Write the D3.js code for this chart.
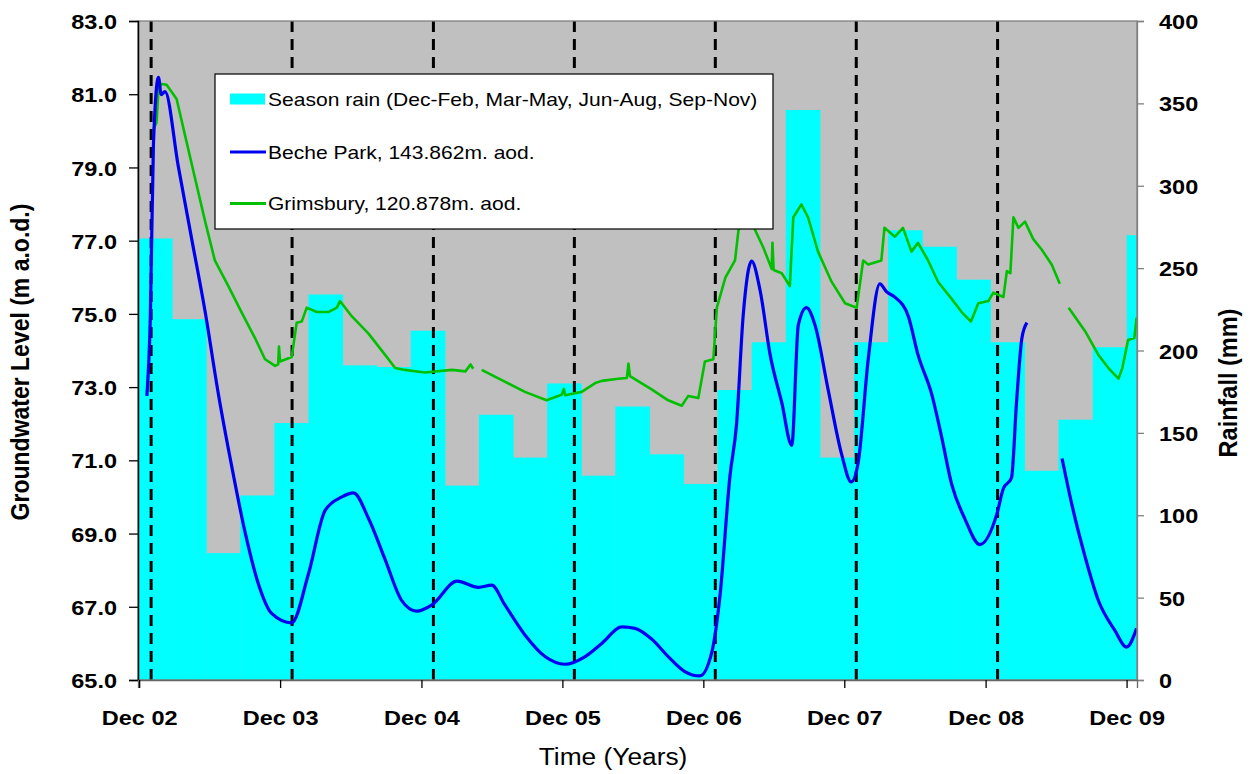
<!DOCTYPE html>
<html>
<head>
<meta charset="utf-8">
<script src="https://cdn.jsdelivr.net/npm/d3@7"></script>
<style>
  html, body { margin: 0; padding: 0; background: #ffffff; }
  svg { display: block; }
  text { font-family: "Liberation Sans", Arial, sans-serif; fill: #000; }
</style>
</head>
<body>
<svg id="chart" width="1250" height="774"></svg>
<script>
// ---------------- DATA ----------------
const seasonRain = [268, 219, 77, 112, 156, 234, 191, 190, 212, 118, 161, 135, 180, 124, 166,
                    137, 119, 176, 205, 346, 135, 205, 273, 263, 243, 205, 127, 158, 202, 270];
const seasonBarSpan = 29.3; // number of season bars across the plotted period (last one partial)

const bechePark = [
  ["2002-12-21",72.76],["2002-12-30",74.94],["2003-01-07",79.64],["2003-01-20",81.46],["2003-01-27",80.99],
  ["2003-02-06",81.07],["2003-03-12",79.05],["2003-04-16",77.05],["2003-05-21",75.05],["2003-06-24",72.82],
  ["2003-07-29",70.82],["2003-09-01",69.05],["2003-10-05",67.65],["2003-11-09",66.82],["2003-12-31",66.56],
  ["2004-02-12",67.88],["2004-03-27",69.64],["2004-05-09",70.0],["2004-06-08",70.11],["2004-07-17",69.41],
  ["2004-08-29",68.29],["2004-10-11",67.17],["2004-11-19",66.88],["2004-12-28",67.05],["2005-03-03",67.70],
  ["2005-04-28",67.53],["2005-06-01",67.59],["2005-07-05",67.05],["2005-08-26",66.23],["2005-10-17",65.64],
  ["2005-12-08",65.43],["2006-01-29",65.64],["2006-03-13",66.0],["2006-05-04",66.45],["2006-06-07",66.41],
  ["2006-07-20",66.12],["2006-09-01",65.64],["2006-10-14",65.23],["2006-11-22",65.11],["2006-12-23",65.76],
  ["2007-01-13",67.29],["2007-02-08",70.58],["2007-02-25",71.99],["2007-03-14",74.93],["2007-04-05",76.44],
  ["2007-04-27",75.64],["2007-05-23",73.88],["2007-06-22",72.58],["2007-07-18",71.41],["2007-08-04",74.70],
  ["2007-08-25",75.17],["2007-09-16",74.70],["2007-10-20",72.94],["2007-11-24",71.17],["2007-12-19",70.41],
  ["2008-01-06",70.94],["2008-02-01",73.76],["2008-03-02",75.82],["2008-03-20",75.6],["2008-04-10",75.46],
  ["2008-05-15",74.93],["2008-06-09",73.88],["2008-07-14",72.82],["2008-08-09",71.64],["2008-09-04",70.35],
  ["2008-10-08",69.41],["2008-11-16",68.70],["2008-12-30",69.53],["2009-01-16",70.23],["2009-02-06",70.52],
  ["2009-02-19",72.58],["2009-03-05",74.34],["2009-03-18",74.76],["2009-04-20",null],["2009-06-17",71.05],
  ["2009-07-13",69.76],["2009-08-16",68.35],["2009-09-19",67.17],["2009-11-01",66.35],["2009-12-01",65.90],
  ["2009-12-27",66.41]
];

const grimsbury = [
  ["2003-01-07",80.05],["2003-01-15",80.23],["2003-01-20",81.16],["2003-01-28",81.28],["2003-02-10",81.26],
  ["2003-03-08",80.87],["2003-03-30",79.87],["2003-04-25",78.69],["2003-05-21",77.52],["2003-06-15",76.46],
  ["2003-07-20",75.76],["2003-08-23",75.05],["2003-09-27",74.34],["2003-10-23",73.76],["2003-11-18",73.58],
  ["2003-11-26",73.62],["2003-11-28",74.11],["2003-12-01",73.70],["2003-12-31",73.82],["2004-01-13",74.76],
  ["2004-01-26",74.79],["2004-02-08",75.17],["2004-03-05",75.05],["2004-04-04",75.05],["2004-04-26",75.17],
  ["2004-05-04",75.35],["2004-06-04",74.93],["2004-07-17",74.46],["2004-08-29",73.88],["2004-09-24",73.52],
  ["2004-10-19",73.47],["2004-12-10",73.40],["2005-02-18",73.47],["2005-03-25",73.43],["2005-04-07",73.62],
  ["2005-04-14",73.50],["2005-04-24",null],["2005-05-06",73.47],["2005-06-27",73.19],["2005-08-26",72.87],
  ["2005-10-21",72.64],["2005-11-29",72.79],["2005-12-05",72.95],["2005-12-08",72.78],["2006-01-20",72.87],
  ["2006-02-24",73.11],["2006-03-13",73.17],["2006-04-25",73.23],["2006-05-17",73.25],["2006-05-21",73.64],
  ["2006-05-25",73.30],["2006-07-20",72.94],["2006-09-01",72.64],["2006-10-06",72.49],["2006-10-23",72.76],
  ["2006-11-18",72.70],["2006-12-05",73.70],["2006-12-27",73.76],["2007-01-05",75.17],["2007-01-27",75.99],
  ["2007-02-21",76.46],["2007-03-02",77.29],["2007-03-19",77.9],["2007-04-14",77.29],["2007-05-05",76.82],
  ["2007-05-27",76.23],["2007-05-29",76.94],["2007-06-01",76.2],["2007-06-22",76.11],["2007-07-13",75.76],
  ["2007-07-22",77.64],["2007-08-12",77.99],["2007-08-29",77.64],["2007-09-24",76.70],["2007-10-29",75.88],
  ["2007-12-03",75.29],["2008-01-02",75.17],["2008-01-19",76.46],["2008-02-01",76.35],["2008-03-06",76.46],
  ["2008-03-14",77.35],["2008-04-10",77.11],["2008-05-01",77.35],["2008-05-23",76.70],["2008-06-09",76.94],
  ["2008-07-05",76.46],["2008-07-31",75.87],["2008-09-04",75.41],["2008-09-30",75.05],["2008-10-24",74.79],
  ["2008-11-12",75.29],["2008-12-08",75.35],["2008-12-21",75.58],["2009-01-16",75.46],["2009-01-25",76.17],
  ["2009-02-03",76.11],["2009-02-11",77.64],["2009-02-24",77.35],["2009-03-13",77.52],["2009-04-03",77.05],
  ["2009-04-25",76.76],["2009-05-21",76.35],["2009-06-11",75.82],["2009-06-22",null],["2009-07-04",75.17],
  ["2009-08-16",74.52],["2009-09-19",73.88],["2009-10-15",73.52],["2009-11-10",73.23],["2009-11-20",73.52],
  ["2009-12-05",74.29],["2009-12-21",74.34],["2009-12-27",74.9]
];

const timeDomain = ["2002-11-28", "2009-12-28"];
const xTickDates = ["2002-12-01","2003-12-01","2004-12-01","2005-12-01","2006-12-01","2007-12-01","2008-12-01","2009-12-01"];
const yearMarkers = ["2003-01-01","2004-01-01","2005-01-01","2006-01-01","2007-01-01","2008-01-01","2009-01-01"];
const levelTicks = [65, 67, 69, 71, 73, 75, 77, 79, 81, 83];
const rainTicks = [0, 50, 100, 150, 200, 250, 300, 350, 400];

const legendLabels = [
  "Season rain (Dec-Feb, Mar-May, Jun-Aug, Sep-Nov)",
  "Beche Park, 143.862m. aod.",
  "Grimsbury, 120.878m. aod."
];
const titles = { left: "Groundwater Level (m a.o.d.)", right: "Rainfall (mm)", bottom: "Time (Years)" };

// ---------------- LAYOUT ----------------
const L = 138, R = 1137, T = 21, B = 680;
const SX = 1.12; // horizontal text stretch of the original
const parse = d3.timeParse("%Y-%m-%d");
const svg = d3.select("#chart");

const x = d3.scaleTime().domain(timeDomain.map(parse)).range([L, R]);
const xBar = d3.scaleLinear().domain([0, seasonBarSpan]).range([L, R]);
const yL = d3.scaleLinear().domain([65, 83]).range([B, T]);
const yR = d3.scaleLinear().domain([0, 400]).range([B, T]);

svg.append("defs").append("clipPath").attr("id", "plotclip")
  .append("rect").attr("x", L).attr("y", T).attr("width", R - L).attr("height", B - T);

// plot background
svg.append("rect").attr("x", L).attr("y", T).attr("width", R - L).attr("height", B - T)
  .attr("fill", "#c0c0c0");

const plot = svg.append("g").attr("clip-path", "url(#plotclip)");

// season rain bars
plot.selectAll("rect.bar").data(seasonRain).join("rect").attr("class", "bar")
  .attr("x", (d, i) => xBar(i))
  .attr("width", (d, i) => xBar(i + 1) - xBar(i) + 0.5)
  .attr("y", d => yR(d))
  .attr("height", d => yR(0) - yR(d))
  .attr("fill", "#00ffff");

// year marker dashed lines
plot.selectAll("line.yr").data(yearMarkers.map(parse)).join("line").attr("class", "yr")
  .attr("x1", d => x(d)).attr("x2", d => x(d))
  .attr("y1", T).attr("y2", B)
  .attr("stroke", "#000").attr("stroke-width", 3).attr("stroke-dasharray", "11,7");

// lines
const mkLine = (curve) => d3.line()
  .defined(d => d[1] !== null)
  .x(d => x(parse(d[0])))
  .y(d => yL(d[1]))
  .curve(curve);

plot.append("path").datum(grimsbury)
  .attr("d", mkLine(d3.curveLinear))
  .attr("fill", "none").attr("stroke", "#00c000").attr("stroke-width", 2.6)
  .attr("stroke-linejoin", "round");

plot.append("path").datum(bechePark)
  .attr("d", mkLine(d3.curveMonotoneX))
  .attr("fill", "none").attr("stroke", "#0000f0").attr("stroke-width", 3.2)
  .attr("stroke-linejoin", "round");

// plot border (top, right, bottom gray)
svg.append("rect").attr("x", L).attr("y", T).attr("width", R - L).attr("height", B - T)
  .attr("fill", "none").attr("stroke", "#808080").attr("stroke-width", 1.3);

// ---------------- AXES ----------------
const fontTick = 21;
const axL = svg.append("g").attr("transform", `translate(${L},0)`)
  .call(d3.axisLeft(yL).tickValues(levelTicks).tickFormat(d3.format(".1f")).tickSize(9).tickPadding(0));
axL.select(".domain").attr("stroke", "#000").attr("stroke-width", 1.5);
axL.selectAll(".tick line").attr("stroke", "#000").attr("stroke-width", 1.3);
axL.selectAll(".tick text")
  .attr("x", -21 / SX).attr("dy", "0.36em")
  .attr("transform", `scale(${SX},1)`)
  .style("font-size", fontTick + "px").style("font-weight", "bold")
  .style("font-family", '"Liberation Sans", Arial, sans-serif');

const axR = svg.append("g").attr("transform", `translate(${R},0)`)
  .call(d3.axisRight(yR).tickValues(rainTicks).tickFormat(d3.format("d")).tickSize(7).tickPadding(0));
axR.select(".domain").attr("stroke", "#808080").attr("stroke-width", 1.3);
axR.selectAll(".tick line").attr("stroke", "#808080").attr("stroke-width", 1.3);
axR.selectAll(".tick text")
  .attr("x", 22 / SX).attr("dy", "0.36em")
  .attr("transform", `scale(${SX},1)`)
  .style("font-size", fontTick + "px").style("font-weight", "bold")
  .style("font-family", '"Liberation Sans", Arial, sans-serif');

const axB = svg.append("g").attr("transform", `translate(0,${B})`)
  .call(d3.axisBottom(x).tickValues(xTickDates.map(parse)).tickFormat(d3.timeFormat("%b %y")).tickSize(8).tickPadding(0));
axB.select(".domain").attr("stroke", "#666").attr("stroke-width", 1.3);
axB.selectAll(".tick line").attr("stroke", "#000").attr("stroke-width", 1.3);
axB.selectAll(".tick text")
  .attr("y", 45.5).attr("dy", "0")
  .attr("transform", `scale(${SX},1)`)
  .style("font-size", fontTick + "px").style("font-weight", "bold")
  .style("font-family", '"Liberation Sans", Arial, sans-serif');

// axis titles
svg.append("text")
  .attr("transform", `translate(29,362) rotate(-90) scale(1,${SX})`)
  .attr("text-anchor", "middle")
  .style("font-size", "23px").style("font-weight", "bold")
  .text(titles.left);

svg.append("text")
  .attr("transform", `translate(1237,383) rotate(-90) scale(1,${SX})`)
  .attr("text-anchor", "middle")
  .style("font-size", "23.5px").style("font-weight", "bold")
  .text(titles.right);

svg.append("text")
  .attr("transform", `translate(613,765) scale(${SX},1)`)
  .attr("text-anchor", "middle")
  .style("font-size", "23.5px")
  .text(titles.bottom);

// ---------------- LEGEND ----------------
const lg = svg.append("g");
lg.append("rect").attr("x", 215).attr("y", 74).attr("width", 558).attr("height", 155)
  .attr("fill", "#fff").attr("stroke", "#000").attr("stroke-width", 1.2);
const rowsY = [99, 152, 203.5];
lg.append("rect").attr("x", 230).attr("y", rowsY[0] - 5.5).attr("width", 35).attr("height", 11).attr("fill", "#00ffff");
lg.append("line").attr("x1", 230).attr("x2", 266).attr("y1", rowsY[1]).attr("y2", rowsY[1])
  .attr("stroke", "#0000f0").attr("stroke-width", 3);
lg.append("line").attr("x1", 230).attr("x2", 266).attr("y1", rowsY[2]).attr("y2", rowsY[2])
  .attr("stroke", "#00c000").attr("stroke-width", 3);
lg.selectAll("text.lt").data(legendLabels).join("text").attr("class", "lt")
  .attr("transform", (d, i) => `translate(268,${rowsY[i]}) scale(${SX},1)`)
  .attr("dy", "0.36em")
  .style("font-size", "18.8px")
  .text(d => d);
</script>
</body>
</html>
